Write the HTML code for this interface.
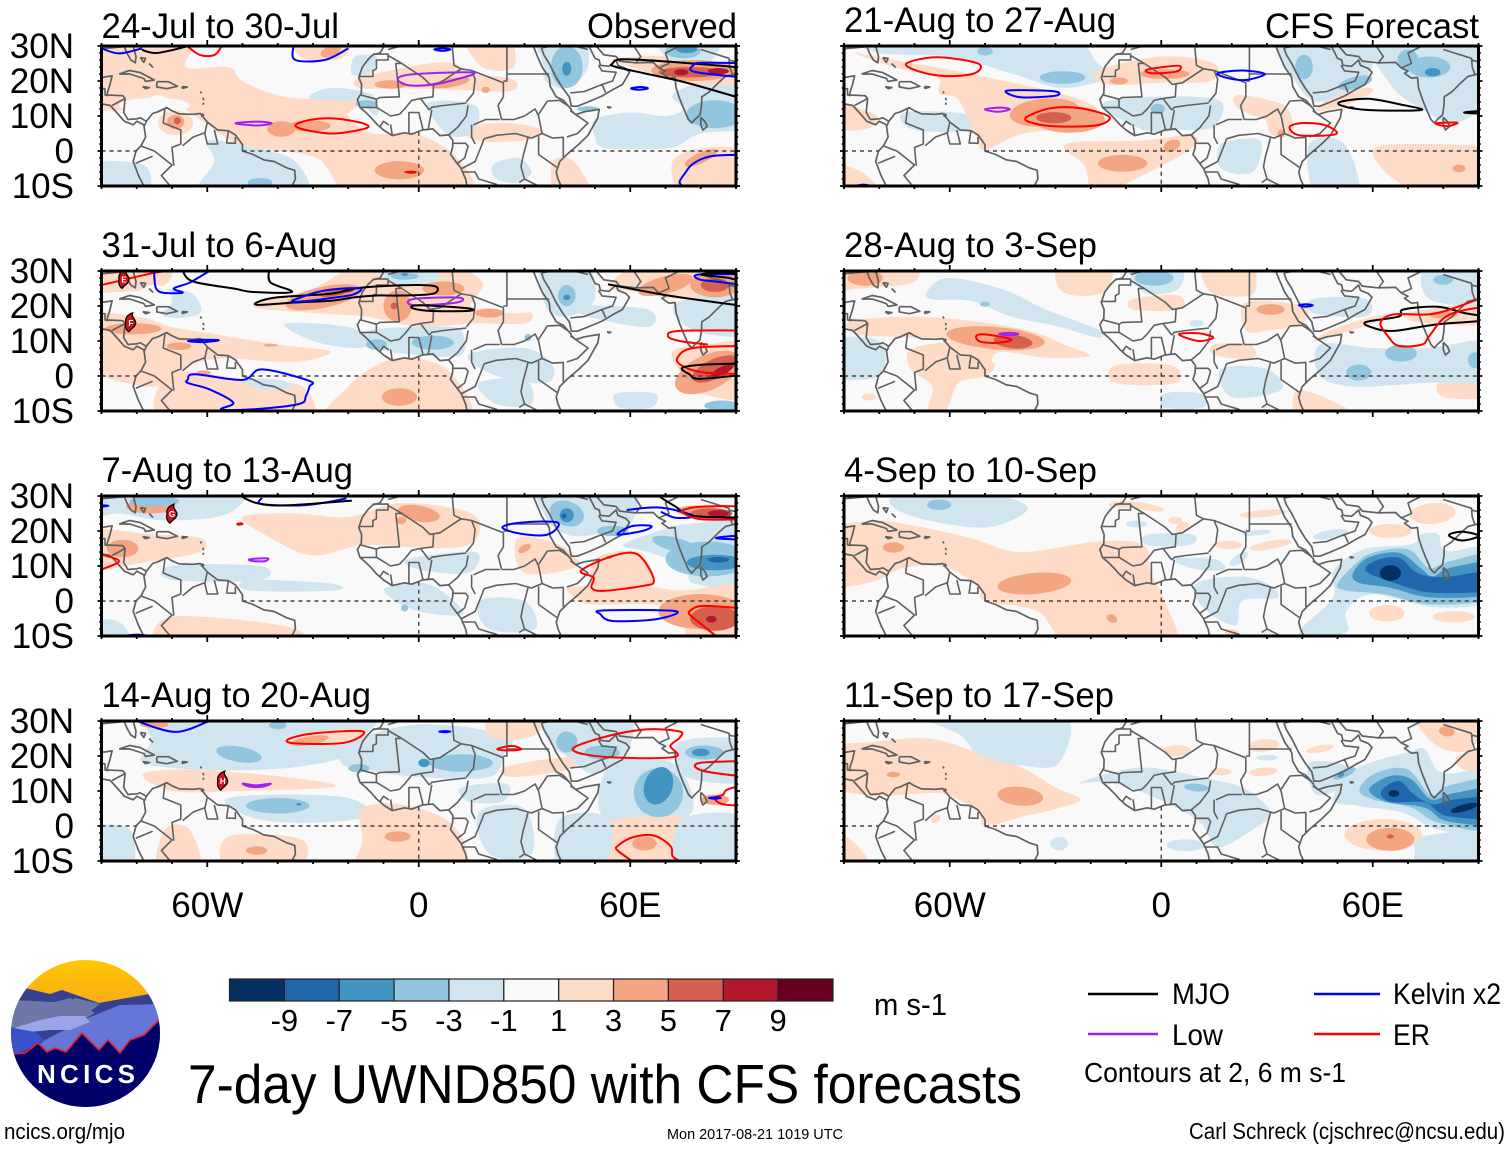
<!DOCTYPE html>
<html lang="en">
<head>
<meta charset="utf-8">
<title>7-day UWND850 with CFS forecasts</title>
<style>
html,body{margin:0;padding:0;background:#fff;}
svg{display:block;font-family:"Liberation Sans",sans-serif;}
</style>
</head>
<body>
<svg id="chart" xmlns="http://www.w3.org/2000/svg" width="1510" height="1149" viewBox="0 0 1510 1149">
  <rect width="1510" height="1149" fill="#fff"/>

  <g>
    <defs>
      <clipPath id="logoClip"><ellipse cx="85.5" cy="1033.5" rx="74.5" ry="73.5"/></clipPath>
      <linearGradient id="sky" x1="0" y1="0" x2="0" y2="1"><stop offset="0" stop-color="#ffc800"/><stop offset="1" stop-color="#f5a41e"/></linearGradient>
    </defs>
    <g clip-path="url(#logoClip)">
      <rect x="10" y="958" width="152" height="60" fill="url(#sky)"/>
      <path d="M5 989 L25 988 L50 994 L62 990 L99 1003 L149 994 L165 995 L165 1110 L5 1110Z" fill="#36408f"/>
      <path d="M5 1000 L35 1001 L55 1002 L70 998 L95 1013 L75 1024 L40 1030 L5 1027Z" fill="#6d78a8"/>
      <path d="M60 1007 L75 998 L100 1004 L84 1016 L65 1015Z" fill="#6d78a8"/>
      <path d="M88 1018 L120 1005 L165 1004 L165 1060 L60 1060 L20 1060 L45 1040Z" fill="#6676d6"/>
      <path d="M14 1028 L40 1020 L60 1016 L85 1016 L90 1022 L70 1030 L50 1030 L30 1032Z" fill="#9aa4e6"/>
      <path d="M8 1027 L35 1032 L45 1040 L20 1053 L8 1055Z" fill="#3a50c8"/>
      <path d="M5 1053 L14 1054 L25 1053 L38 1043 L47 1052 L55 1048 L66 1052 L82 1033 L99 1050 L108 1040 L120 1053 L130 1040 L144 1035 L159 1020 L165 1020 L165 1110 L5 1110Z" fill="#00006a"/>
      <path d="M5 1053 L14 1054 L25 1053 L38 1043 L47 1052 L55 1048 L66 1052 L82 1033 L99 1050 L108 1040 L120 1053 L130 1040 L144 1035 L159 1020" fill="none" stroke="#e8202a" stroke-width="1.6"/>
      <text x="37" y="1083" font-size="26" font-weight="bold" fill="#fff" textLength="98" lengthAdjust="spacing">NCICS</text>
    </g>
  </g>

  <g id="panels"></g>
  <g id="colorbar"></g>

  <text x="874" y="1015" font-size="31" textLength="73" lengthAdjust="spacingAndGlyphs">m s-1</text>
  <text x="188" y="1103" font-size="55" textLength="834" lengthAdjust="spacingAndGlyphs">7-day UWND850 with CFS forecasts</text>

  <g font-size="30">
    <line x1="1088" y1="994" x2="1158" y2="994" stroke="#000" stroke-width="2.4"/>
    <text x="1172" y="1004" textLength="58" lengthAdjust="spacingAndGlyphs">MJO</text>
    <line x1="1314" y1="994" x2="1380" y2="994" stroke="#0000ff" stroke-width="2.4"/>
    <text x="1393" y="1004" textLength="108" lengthAdjust="spacingAndGlyphs">Kelvin x2</text>
    <line x1="1088" y1="1034" x2="1158" y2="1034" stroke="#a020f0" stroke-width="2.4"/>
    <text x="1172" y="1045" textLength="51" lengthAdjust="spacingAndGlyphs">Low</text>
    <line x1="1314" y1="1034" x2="1380" y2="1034" stroke="#ff0000" stroke-width="2.4"/>
    <text x="1393" y="1045" textLength="37" lengthAdjust="spacingAndGlyphs">ER</text>
    <text x="1084" y="1082" font-size="28" textLength="262" lengthAdjust="spacingAndGlyphs">Contours at 2, 6 m s-1</text>
  </g>

  <text x="4" y="1139" font-size="22" textLength="121" lengthAdjust="spacingAndGlyphs">ncics.org/mjo</text>
  <text x="667" y="1139" font-size="15" textLength="176" lengthAdjust="spacingAndGlyphs">Mon 2017-08-21 1019 UTC</text>
  <text x="1189" y="1139" font-size="23" textLength="316" lengthAdjust="spacingAndGlyphs">Carl Schreck (cjschrec@ncsu.edu)</text>
</svg>

<script>
// ---------- colour scale ----------
const levelValues = [-10,-8,-6,-4,-2,0,2,4,6,8,10];
const levelColors = ['#053061','#2166ac','#4393c3','#92c5de','#d1e5f0','#f9f9f9','#fddbc7','#f4a582','#d6604d','#b2182b','#67001f'];
const colorbarLabels = ['-9','-7','-5','-3','-1','1','3','5','7','9'];

// ---------- axes ----------
const lonLabels = ['60W','0','60E'];
const lonLabelValues = [-60,0,60];
const latLabels = ['30N','20N','10N','0','10S'];
const latLabelValues = [30,20,10,0,-10];

// ---------- geography: [lon,lat,...] ----------
const coastLines = [
 [-9.8,30,-11,28,-13,27.5,-14.5,26,-16,24,-17,21,-16.2,19,-16.3,16.5,-17.4,14.7,-16.7,12.5,-15,11,-13.5,9.5,-12,7.8,-10,6,-7.5,4.4,-4,5.2,-2,4.8,1,6,4,6.3,6,4.4,8.5,4.6,9.7,3,9.6,1,9,-1,10.5,-3,12,-5,13.3,-8,13.7,-10],
 [32.5,30,33.5,27.5,35,24,37,21,37.3,18.5,39,15.5,41,14.5,43.2,12,43.3,11.5,44.5,10.4,47,11.2,51.2,11.9,50.8,9.5,48,4.5,45.5,2,42,-1,40,-3,39,-6,39.5,-8,40.4,-10],
 [34.8,29.5,35.5,27.5,37,25,39,21,40.8,18,42.7,15.5,43.3,12.8,45,12.8,48,14,52,15.7,55,17.5,57.8,19,59.8,22.5,58.7,23.6,56.5,24.5,56,26,54,24.2,51.5,24.5,51.2,26,50,26.5,48.5,29.5,48,30],
 [48,30,50.5,29.8,52.5,27.5,56,27,57,25.7,61.5,25.2,66.5,25.3,68,23.8,70,22.8,69,22.2,71,20.8,72.7,21,73,18,74,15,75,12.5,76.5,9,77.5,8,78.3,9,79.8,10.3,80.2,13,80.3,15.5,82.3,16.8,85,19.5,87,21.3,89,21.8,90,22],
 [80,9.6,81.2,8.4,81.8,7,80.6,6,80,7.5,80,9.6],
 [53.4,12.6,54.5,12.5,54,12.3,53.4,12.6],
 [-81,30,-80.2,27,-80.4,25.2,-81.7,26,-82.8,28,-83.5,29.8,-85,29.7,-90,29.2],
 [-90,21,-87,21.5,-87.6,19,-88.2,17,-88.5,16,-84,15.8,-83.3,15,-83.7,11,-82.5,9,-80,9.2,-79,9.5,-77.3,8.5,-75.5,10.7,-74,11.2,-71.5,12.4,-70,11.5,-68,10.6,-64,10.5,-62,10.7,-60,8.3,-57,6,-54,5.8,-52,4.6,-50,1.8,-50,0,-47,-1,-44,-2.5,-41,-3,-37.5,-4.8,-35.2,-5.5,-35,-8,-36,-10],
 [-90,13.5,-87.5,13,-85.7,11,-83.5,8.5,-81,7.5,-80,8.5,-78,7.5,-77.5,4,-78.8,1.5,-80.2,0,-81,-3,-79.5,-7,-78,-10],
 [-85,22,-82,23,-79,22.4,-75,20.3,-77.5,19.9,-78,20.7,-82,22,-85,22],
 [-74.3,19.8,-71,19.8,-68.5,18.5,-71.5,17.8,-74.3,18.3,-74.3,19.8],
 [-78.3,18.4,-76.4,18.1,-77.5,17.8,-78.3,18.4],
 [-67.2,18.4,-65.7,18.3,-67,17.9,-67.2,18.4],
 [-79,26.7,-77.5,26.5,-78,25.3,-79,26.7],
 [-76.5,25,-75.5,24,-76,24.5],
 [-62,17,-61.6,16.5],[-61.2,15.2,-61,14.5],[-61,13.8,-61.2,13.2],
 [-61.5,10.7,-61,10.2,-61.8,10]
];
const borderLines = [
 [-17,21.3,-13,21.3,-13,23,-12,23.5,-12,26,-8.7,26,-8.7,27.7,-13,27.7],
 [-8.7,27.3,-4.8,25,-6.5,25,-5.5,15.5,-11,15.3,-12,14.8,-16.4,16],
 [-8.7,29,-5,30],
 [-4.8,25,1.2,21,3.2,19,4.2,19.2,6,19.5,12,23.5,10,24.5,9.5,30],
 [12,23.5,15,23,24,19.5,24,15.5,22.5,13,23.5,9],
 [25,30,25,22,37,22],[25,22,25,20,24,20],
 [15,23,16,20.5,15.5,16.5,13.5,14],
 [4.2,19.2,4,15.5,0.5,15,3,11.7],
 [3,11.7,3.7,12.5,7,13,13.5,13.7],
 [2.7,6.3,3.7,11.7],[1.2,6.1,0,11,-2.8,11,-2.8,5],
 [-5.5,10.5,-4,12,-2,14.5,0.5,15],
 [-8,7.6,-7.5,4.4],[-8.5,7.5,-10,8.5,-11,7],
 [-12,12.5,-8,10,-5.5,10.5],[-16.7,12.4,-12,12.5,-12,14.8],
 [8.5,4.6,11,6.7,13.5,10,14,13],
 [15,7.5,15,4,16,2],[15.5,7.5,19,9,23,9],
 [18.5,3.5,22,4.5,27.5,5],
 [23.5,9,27,9,30,10,33,12,34,10,35,5,32,3.7,27.5,5],
 [36.5,14.3,34,10.5],[36.5,14.3,40,14.5,42.5,12.8],
 [43,11.5,48,8,45,5,42,4],[35,5,38,3.7,41,3.9,41,-1.7],
 [34,4.2,34,1,34,-1,39.2,-4.7],
 [31,3.8,30,0,29.6,-1.4,29,-4.5,30,-8,28.5,-9],
 [9.8,2.2,13.3,2.2,14,1.3,13,-2,11,-3.5],
 [12.2,-5,16,-3,18,2,18.5,3.5],
 [12.2,-6,16,-6,17,-8,22,-9.5,24,-11],
 [30,-8,33,-9.5,34,-10,40.4,-10.5],
 [43,16.6,47,17,52,19,55,20,56,22.5,52,22.9,51,24.5],
 [52,19,53,16.7],[61.5,25,63,27,61,30],
 [68.2,23.8,71,25,70,28,74,30],
 [80,29,88,26.5,88.2,24,89,21.8],[88,26,92,25],
 [35,29.5,38,30],[44,30,48,29],
 [-72,12,-72.5,8,-67.5,6,-67.5,2,-70,1,-69.5,-4.2],
 [-79,1.5,-75,0,-70,-4,-73,-7,-70.5,-10],
 [-80.3,-3.5,-75.5,-1.5],[-67,1.5,-64,4,-60.7,5.2],
 [-60,8.3,-60.7,5,-60,2,-57,2,-58,6],
 [-54,5.8,-54.5,2.3,-52,2.2,-52,4],
 [-90,17.8,-89,17.8,-89,16,-88,15.8],[-83.3,15,-87,13],[-77.3,8.5,-77.8,7.2]
];
const equatorSegments = [-90,-80,-50,9,43,90];
const meridianSegment = [5.5,-10];

// ---------- panel 1: 24-Jul to 30-Jul ----------
const p1Areas = [
 [2,[-95,33,-65,33,-66,24,-54,24,-50,20,-38,15.5,-18,14,-20,10,-13,5,-1,5,11,-2,14,-13,-18,-13,-29,-2,-48,1,-55,4,-65,11,-74,16,-81,12,-95,14]],
 [2,[-17,21,-8,23,3,25,10,25,15,22,25,21,28,19,25,17,10,17.5,-5,18,-17,18]],
 [2,[13,33,25,33,27,24,18,24]],
 [2,[-35,33,-20,33,-22,26.5,-33,26.5]],
 [2,[55,26,62,27,70,27,78,24,95,24,95,19,80,19,70,21,60,24]],
 [2,[14,7,25,8,35,6,30,3,16,3]],
 [2,[38,-3,44,-3,49,-13,39,-13]],
 [2,[72,-3,82,1,95,-1,95,-13,76,-13]],
 [-2,[33,33,46,33,48,24,42,18,36,20,35,26]],
 [-2,[68,33,85,33,82,25,72,25]],
 [-2,[50,9,60,11,70,10,75,12,72,16,80,19,95,17,95,7,80,5,72,1,60,0.5,52,1,50,4]],
 [-2,[-31,15,-18,14,-12,10,-13,16,-25,18]],
 [-2,[3,14,16,13,16,6,10,4,5,8]],
 [-2,[-60,3,-47,1,-35,-3,-33,-13,-62,-13,-58,-3]],
 [-2,[-95,-4,-78,-4,-78,-13,-95,-13]],
 [-2,[-18,27,-12,27,-14,22,-19,22]],
 [-2,[21,-4,28,-2,32,-6,28,-9,22,-8]]
];
const p1Blobs = [
 [0,-75,13,10,2.2,0],[0,-70,-4,7,4,0],
 [2,-69,8,5,3.5,0],[4,-69,8.3,2.5,2,0],[6,-68.5,8.6,1,1,0],
 [4,-39,6.3,4,2.2,0],[4,-31,7.2,6,1.6,0],[4,-5.5,-5.5,7,2.6,0],
 [4,-25,28.5,3,1.5,-20],[4,-8,19,4.5,1.2,0],[4,9,19.5,5.5,1.3,-10],[4,19,17.5,1.2,0.9,0],
 [4,78,23,12,3,0],[6,77,22.5,9,1.5,0],[8,74.5,22.5,2,0.9,0],[8,85,22.8,3,0.9,0],
 [4,80,-2,5,1.5,-25],
 [-4,42,24,4.5,6,0],[-6,42,23.5,1.3,2,0],[-4,75,28.5,5,2,0],[-6,76,29,3,1,0],
 [-4,84,10.5,8,4,0],[-4,-15,13.5,3,1,0],[-4,-45,-9,3.5,1.3,0],[-4,48,12,3,0.8,0]
];
const p1Contours = [
 ['kelvin',0,[-90,29.3,-85,27.9,-78.5,29.3]],
 ['mjo',0,[-78.5,28.9,-74.4,28,-66,29.8]],
 ['er',0,[-65.5,29.8,-62,27.4,-58,27.4,-56,29.8]],
 ['kelvin',0,[-35.6,29.8,-35,26,-26.7,26,-20,29.3]],
 ['kelvin',1,[4.4,29,6.7,29.3,9,29,6.7,28.6]],
 ['low',1,[-52,7.9,-45.8,8.4,-41.7,7.9,-45.8,7.3]],
 ['er',1,[-35,7.4,-30.8,8.9,-24,9.3,-15.8,7.9,-15,6.5,-24,5,-32,6]],
 ['low',1,[-5.9,20.8,-0.8,22,15.5,22.4,10,20.3,3.3,18.9,-3.5,18.9]],
 ['er',1,[-3.8,-6,-2,-5.9,-0.8,-6,-2,-6.2]],
 ['mjo',0,[95,23.6,71.4,25.5,57.8,26.2,55,25,56,24,68.7,21.2,76.8,19.3,90,15.5,95,14]],
 ['kelvin',1,[78,24.6,80.8,25.2,95,24.6,95,20.9,90,21.2,78,22.7]],
 ['kelvin',1,[60.2,17.9,63,18.3,65,17.9,62.5,17.5]],
 ['kelvin',0,[95,-1.1,83.6,-1.4,78,-3.5,75.5,-6.4,74,-8.8,74.8,-10]]
];

// ---------- panel 2: 31-Jul to 6-Aug ----------
const p2Areas = [
 [2,[-95,33,-72,33,-72,26,-85,24,-95,25]],
 [2,[-95,17,-80,17,-70,14,-58,12,-40,9,-25,7,-35,4,-55,5,-65,3,-70,-1,-78,-3,-95,3]],
 [2,[-72,0,-62,1,-50,-1,-33,-3,-33,-13,-72,-13]],
 [2,[-47,20,-30,25,-18,31,-5,28,5,33,18,27,15,20,25,18,32,18,30,15,15,15,0,14,-15,17,-30,18]],
 [2,[-10,4,0,5,10,0,13,-13,-25,-13,-20,-3]],
 [2,[54,26,65,33,80,33,95,30,95,23,75,22,62,24]],
 [2,[72,7,82,9,95,9,95,-6,80,-5,75,0]],
 [-2,[-75,24,-65,24,-62,18,-72,17]],
 [-2,[-38,15,-20,14,-13,10,-18,8,-30,10]],
 [-2,[-14,13,5,14,12,13,12,6,0,6,-12,8]],
 [-2,[-11,33,3,33,5,27,-9,27]],
 [-2,[35,33,47,33,50,22,42,17,36,20]],
 [-2,[46,20,65,19,65,14,48,17]],
 [-2,[73,21,95,23,95,12,78,13]],
 [-2,[14,6,30,8,38,3,36,-2,22,0]],
 [-2,[17,-2,30,-1,32,-8,22,-8]],
 [-2,[56,-5,67,-5,66,-9,57,-9]],
 [-2,[-50,-1,-40,-1,-36,-3,-44,-4]]
];
const p2Blobs = [
 [0,-75,22,5,4,0],
 [4,-81,13.5,8,1.6,0],[4,-68,8.5,3.5,1.1,0],[4,-61,1,2,0.6,0],[4,-42,8.8,2,0.4,0],
 [4,-27,22.5,11,3,-12],[6,-23,24,5,1,-12],[8,-20,24.5,1.5,0.5,0],
 [4,-6,20,4,4.5,0],[6,-7,20,1,1,0],[4,7,25,6,2,0],[4,20,18,4,1.3,0],
 [4,-5.5,-6,5,2.5,0],
 [4,70,26,8,2.5,-15],[4,84,26,7,3.5,0],[6,84,26,4,2,0],
 [4,82,1,10,5,-25],[6,84,2,7,2.8,-25],[8,86,1.5,3.5,1.1,-25],
 [-4,-4,28.5,4,1,0],[-6,-4,29,1,0.4,0],[-4,4,9.5,6,2,0],[-4,-12,9,3,1.5,0],
 [-4,42,23,2.5,3,0],[-6,42,22.5,1,0.8,0],[-4,86,-8.5,5,1.5,0],[-4,31,11,1,1,0]
];
const p2Contours = [
 ['er',0,[-90,26,-75,29.5,-70,30]],
 ['kelvin',0,[-75,30,-75,28,-74.5,25,-72.5,23.8,-67,23.8,-69.5,25,-65,26.7,-59.4,30]],
 ['mjo',0,[-67,30,-64,27,-52.5,25,-47,24,-36,24,-42,26.7,-42.5,30]],
 ['mjo',1,[-46,21,-40,22.5,-25,23.5,-18,25,-10,25.7,0,26,5,25.5,4,23.5,-5,23,-12,23,-18,22.5,-25,21.5,-35,21,-45,20.3]],
 ['kelvin',1,[-36,21.4,-29.4,23.8,-24,24.8,-16.5,25,-18.5,23.3,-24,22.4,-32,21.4]],
 ['low',1,[-3,21.4,0.5,22.2,11.5,22.4,10.8,21,-1,20.2]],
 ['mjo',1,[-2,19.5,0.5,20.2,14,19.3,14,18.6,3,18.6]],
 ['er',0,[95,13,74,12.9,70.7,11.4,74,10,82,9]],
 ['er',0,[95,8.6,78,8,73.4,5.2,74.8,2.9,81,1,95,0.5]],
 ['mjo',1,[95,3.3,82.3,3.3,74.8,2.4,76.8,0.5,80,-0.8,95,1]],
 ['kelvin',0,[95,29,79.6,29,79.6,27.6,85,26.9,95,25.7]],
 ['mjo',0,[53.7,26.2,71.4,22.9,95,19.6]],
 ['mjo',1,[80,29,88,28,95,26,95,27.5,88,29.5]],
 ['kelvin',1,[-65.5,10,-61,10.3,-56.7,10.2,-61,9.7]],
 ['kelvin',1,[-65.5,-1,-63.5,0.5,-50,-1.1,-44.4,1.9,-31,-1.4,-31,-3,-32,-5.7,-34,-8,-47,-9.5,-56,-9.5,-52.6,-7.6,-59.4,-3.8,-65.5,-2]]
];
const p2Storms = [['E',-83.6,27.6],['F',-81.7,15.2]];

// ---------- panel 3: 7-Aug to 13-Aug ----------
const p3Areas = [
 [-2,[-95,33,-52,33,-54,25,-72,23,-85,25,-95,24]],
 [-2,[35,33,60,33,60,22,50,19,42,19,36,24]],
 [-2,[58,16,68,20,76,22,95,22,95,5,78,5,76,10,65,14]],
 [2,[-95,20,-75,19,-62,18,-62,14,-78,11,-95,9]],
 [2,[-50,24,-35,25,-20,24,-5,28,15,25,16,17,5,15,-15,16,-30,13,-42,18]],
 [2,[-72,-5,-55,-5,-35,-8,-35,-13,-72,-13]],
 [2,[43,4,65,4,75,3,95,4,95,-13,78,-13,72,-2,50,-1,46,0]],
 [2,[28,18,40,16,45,10,30,8]],
 [2,[50,12,62,14,67,6,62,3,50,3]],
 [-2,[-70,10,-45,10,-45,6,-70,6]],
 [-2,[-48,6,-25,5,-24,3,-48,3]],
 [-2,[-9,4,2,5,10,0,12,-4,0,-3,-8,1]],
 [-2,[17,0,30,0,33,-8,20,-8]],
 [-2,[-3,12,16,14,14,8,0,9]],
 [-2,[-95,-6,-85,-6,-82,-13,-95,-13]]
];
const p3Blobs = [
 [4,-76,27,7,2,0],[-4,-75,28.5,7,1.5,0],
 [4,-84,15,4.5,2.5,0],
 [4,0,25,6,2.3,10],[4,-5,23,1.5,1,0],[4,30,15,2,1,-30],
 [-4,42,25,5,3.5,20],[-6,42,24.5,2,2,0],[-8,41.2,24.3,0.7,0.7,0],
 [-4,55,20,4.5,1.5,0],[-4,82,12,12,5,0],[-6,84,11,8,2.2,0],[-8,85,11.8,3,0.8,0],[-4,73,16,7,2,15],
 [4,80,-3,12,5,0],[6,84,-5,7,3.5,0],[8,83,-5.2,1.5,1,0],
 [4,79,25.8,6,1.5,0],[6,83,25,6,1.5,0],[8,85,25,3,1,0],
 [-4,-4,-2,1,1,0]
];
const p3Contours = [
 ['kelvin',0,[-44.5,29.5,-44.5,27.7,-32,27.4,-20.5,29.3]],
 ['mjo',0,[-50.5,30,-46,28,-38,27.3,-19,28.7]],
 ['er',1,[-51.5,22,-50.5,22.2,-50,22,-51,21.8]],
 ['low',1,[-48,11.9,-43,12.2,-43.6,11.4,-47,11.4]],
 ['kelvin',1,[23.7,21,29,22.4,39.4,22.4,36.6,19,29,19.2]],
 ['kelvin',1,[56.4,19,60.5,21.4,66,21.4,63.4,20]],
 ['kelvin',0,[59,26,68.7,26.7,78,24.3,72.8,23.8,68.7,25.5]],
 ['mjo',0,[68,30,72.8,27,78,24.3,95,23.8]],
 ['er',1,[75,26,81,27,95,26.7,95,23.8,81,23.3,75.6,24.8]],
 ['kelvin',0,[95,17.5,90,17.6,84.3,18,90,18.6,95,18.3]],
 ['kelvin',1,[-90,27.3,-88,27.2,-90,27]],
 ['er',1,[46,8.6,53.7,12.4,60.5,13.8,64,11.4,66.7,5.7,63.4,4.3,52.3,2.9,49,3.8,49.6,6.7]],
 ['kelvin',1,[51.6,-3.8,52.3,-2.7,72.8,-2.9,67.3,-5.2,55,-5.7]],
 ['er',0,[84.3,-10,80,-6.5,77,-4,77,-2.8,81,-1.4,95,-2.4]],
 ['er',0,[-90,13.3,-85,11.4,-90,9]],
 ['kelvin',0,[-84,-10,-80,-9.6,-76,-10]]
];
const p3Storms = [['G',-70,24.8]];

// ---------- panel 4: 14-Aug to 20-Aug ----------
const p4Areas = [
 [-2,[-72,33,-15,33,-15,26,-20,20,-38,16.5,-60,16,-78,18,-76,24]],
 [2,[-37,25,-30,27,-15,27.5,-20,23.5,-35,23]],
 [-2,[-19,24,0,29,25,26,24,20,20,14,0,14,-15,16,-22,18]],
 [-2,[-55,7.5,-40,9,-20,8,-14,3,-28,1,-46,2]],
 [2,[-78,15,-60,16,-30,13,-25,11,-50,10,-70,10]],
 [2,[20,33,35,33,33,26,21,25]],
 [2,[25,17,45,20,42,16,26,14]],
 [-2,[55,18,72,18,78,6,72,1,56,1,51,6]],
 [-2,[36,33,58,33,60,23,50,15,42,20,37,24]],
 [-2,[74,24,95,24,95,13,76,14]],
 [2,[-16,5,-4,6,10,0,12,-13,-16,-13,-16,-4]],
 [2,[52,0,70,3,76,0,70,-13,52,-13]],
 [-2,[40,2,54,2,52,-13,40,-13]],
 [-2,[75,2,95,2,95,-13,74,-13]],
 [2,[-54,-3,-33,-4,-35,-13,-54,-13]],
 [2,[-72,-1,-65,-1,-62,-13,-74,-13]],
 [-2,[17,4,30,5,32,-8,20,-8]],
 [-2,[-95,-1,-82,-1,-82,-13,-95,-13]],
 [-2,[12,11,25,12,24,7,14,7]]
];
const p4Blobs = [
 [4,-31,24.4,5.5,1.2,-10],[-4,-51,20.5,6.5,2.2,10],[-4,-40,28.8,2.5,1.2,0],
 [-4,-40,5.8,9,2.2,0],[-6,-34,6.2,0.7,0.4,0],
 [-4,12,18,9,2.5,0],[-6,1.5,18,1.6,1.2,0],[-4,-17,16.5,3,1.2,0],
 [-4,68,9.5,7,7,15],[-6,68,11.5,4,5.5,20],
 [-4,42,24,3,3,0],[-4,52,21,5,2,0],
 [-4,81,21,5.5,2,0],[-6,80,21,2.5,1.1,0],
 [4,-6,-3,3.7,1.5,0],[4,64,-5,3.5,2,0],[4,-46,-7,3,1.2,0],[4,-75,29,4,1,0],
 [4,84,7.5,4,1.5,0]
];
const p4Contours = [
 ['kelvin',0,[-80,30,-69,26.9,-59.4,30]],
 ['er',1,[-37,24.8,-29.5,26.5,-15.8,27,-21,23.8,-35,23.6]],
 ['kelvin',1,[5.8,27,7.5,27.1,9,27,7.5,26.8]],
 ['er',1,[22.3,22,26.4,22.9,29,21.9,25,21.6]],
 ['er',1,[44,22.4,53.7,25.7,64.5,27.6,74,27,74,25.2,71.4,22.9,72.8,19.8,57.8,19.5,47,20.5]],
 ['er',0,[95,18.6,79.6,18,80.9,15.7,95,13.8]],
 ['er',0,[95,12.4,87.7,10.5,86.4,9,84,8,86.4,6.2,95,5.7]],
 ['kelvin',1,[82.3,8,84,8.2,85.7,8,84,7.8]],
 ['er',0,[60.5,-10,56.4,-7,56.4,-5.7,60.5,-3.3,66.6,-2.7,71.4,-5.7,72,-8.6,74,-10]],
 ['low',1,[-49.9,12.1,-46,11.6,-42,12.1,-44.4,11.2,-48,11.3]]
];
const p4Storms = [['H',-55.6,12.8]];

// ---------- panel 5: 21-Aug to 27-Aug ----------
const p5Areas = [
 [-2,[-85,33,-30,33,-18,25,-15,21,-28,18,-42,22,-60,27,-80,28]],
 [-2,[-73,11,-55,10.5,-52,6,-70,6]],
 [-2,[-16,14,15,15,15,7,5,6,-5,6]],
 [-2,[33,33,58,33,58,20,45,14,38,20]],
 [-2,[60,33,90,33,95,18,84,8,74,12,65,19]],
 [-2,[17,2,28,3,26,-6,17,-5]],
 [-2,[42,2,52,2,56,-13,44,-13]],
 [2,[-87,28,-78.5,26.5,-52.5,21.7,-25.3,15.5,-17.3,10.8,-20.4,7,-39,5,-50,0.3,-52.5,4,-57.5,14.6,-63,16.5,-63.6,21,-76,24]],
 [2,[-27,2,-5.5,3,9,4.6,8,0.3,-8,-8.3,-19,-13,-21.6,-4.5]],
 [2,[-18,23,0,27,15,25,14,20,0,19.5,-15,19]],
 [2,[22,16,35,13,34,8,22,12]],
 [2,[44,11.5,52,13,60,17,57,18,48,15]],
 [2,[30,13,36,12,37,5,31,5]],
 [2,[60,0,72,2,95,0,95,-10,70,-10]],
 [2,[-95,14,-85,12,-80,9,-85,6,-95,7]],
 [2,[-95,-4,-85,-6,-80,-13,-95,-13]]
];
const p5Blobs = [
 [-4,-28,21,6.5,1.8,0],[-4,-50,28.5,2.2,1.2,0],
 [-4,8,10,7,3,0],[-2,6,10,10,4,0],[-4,-1,12,2,1.5,0],
 [-4,40.5,24,2.5,3.5,0],[-4,55,19.5,5,1.7,-15],
 [-4,76,24,6,3,0],[-6,77,22.5,2.2,1.2,0],[-4,70,26,3,3,0],
 [4,-33,11,10,4,-5],[4,-26,9,10,3.8,0],[6,-30.5,9.5,5,1.6,0],
 [4,-11,-3.5,7,2.4,0],[4,3,1.5,2.5,1.6,-25],
 [4,-12,20,2.5,1,0],[4,1,22,7,1.4,0],
 [4,84.5,-5,1.8,1.1,0],[4,34,5,1,1.2,0]
];
const p5Contours = [
 ['er',1,[-72.3,25,-63.6,26.8,-52,25,-53,22.2,-61,21.4,-68.6,22.7]],
 ['kelvin',1,[-44,17.2,-39,17.4,-30,17,-30,15.8,-39,15.3,-42.6,16]],
 ['low',1,[-50,11.9,-45.7,12.4,-43,11.9,-46.3,11.2]],
 ['er',1,[-38.3,9.6,-31.5,12.2,-22.9,12.2,-14.8,9.8,-18,7.4,-29,7,-36.5,8]],
 ['er',1,[-4.3,23.1,0.6,24,5.3,24.3,4.3,22.7,-2.5,22.2]],
 ['kelvin',1,[16,22.2,22.9,23,29.4,22,24,20.3,19,20.8]],
 ['mjo',1,[51,14.1,58.7,14.9,67.4,13.4,73.8,11.7,58.7,11.7,51.3,12.9]],
 ['mjo',0,[95,11.7,85.9,11,95,10.5]],
 ['er',1,[36.5,7,40.2,8,46.4,7.4,49.7,4.9,41.4,4.3,37.7,5]],
 ['er',1,[77.9,7.9,84,8.1,81,7.1]],
 ['kelvin',0,[-87,-10,-84.5,-9.6,-82,-10]]
];

// ---------- panel 6: 28-Aug to 3-Sep ----------
const p6Areas = [
 [2,[-95,33,-72,33,-70,27,-85,25,-95,25]],
 [2,[-87,16,-63.6,16.7,-39,13.3,-26.6,8.6,-20.4,5.7,-32.8,5.2,-46.4,6.7,-50,0,-60,4,-60,10,-72,11,-87,12]],
 [2,[-71,7.6,-57.5,9.5,-47.6,3.8,-50,0,-57.5,-2,-61,-9.5,-66,-9.5,-65,-2.9,-71,1.9]],
 [2,[-29,33,-15,33,-16,24,-28,24]],
 [2,[-8,22,5,23,5,19,-8,19]],
 [2,[12,33,25,33,27,27,25,23,14,24]],
 [2,[24,21,40,20,40,15,30,13,24,13]],
 [2,[44,10,60,15,64,17,60,17,48,13]],
 [2,[70,18,95,21,95,15,75,15]],
 [2,[-13,3,3,3,4,-2,-13,-2]],
 [2,[39,-4,54,-10,52,-13,39,-13]],
 [2,[80,-1,95,-1,95,-6,80,-6]],
 [2,[15,9,25,9,26,5,15,6]],
 [-2,[-66,24.8,-60,28,-45,24.8,-32.8,19,-18,13.3,-18,11,-30,14.3,-42.6,17,-53.8,21.4,-65.5,22]],
 [-2,[-9,33,5,33,5,25,-5,24]],
 [-2,[-95,10,-80,10,-80,0,-95,0]],
 [-2,[45,9,60,8,75,8,95,10,95,-1,75,-2,55,-3,45,0]],
 [-2,[76,33,95,33,95,21,76,22]],
 [-2,[43,22,58,22,58,17,43,18]],
 [-2,[17,2,30,2,34,-4,20,-6]],
 [-2,[1,-5,11,-5,12,-9,1,-9]]
];
const p6Blobs = [
 [4,-84,28,5,2.2,0],[4,31,19,4,1.5,0],[4,80,17.5,4,1.1,0],
 [4,-47,10.8,14,3.2,5],[6,-42,9.8,5.5,1.9,5],
 [-4,-50,20.5,1.4,0.7,0],[-4,-2,28,5.5,2.2,0],[-4,80,27.5,2.8,1.4,0],
 [-4,68,6.5,4.5,2.4,0],[-4,56,1,3.5,2.3,0],[-4,89,4.5,2,2.3,0],
 [2,-35,33,9,2,0],[2,-83,-6,2,1,0],[-2,10,15,2,1,0]
];
const p6Contours = [
 ['er',1,[-52.5,11.4,-50,11.9,-42.6,10.5,-46.3,9.5,-51.3,9.8]],
 ['low',1,[-46,12,-43,12.3,-40.5,12,-43,11.7]],
 ['er',1,[5,11.9,10.5,12.2,14.8,11,10.5,10]],
 ['kelvin',1,[39,20.2,41,20.5,43,20.2,41,19.8]],
 ['mjo',1,[58,15.4,67.4,17,68.7,19,78.5,19.8,85.9,18,95,16.2,78.5,14.8,66,12.9,60,13.8]],
 ['er',0,[95,19,90,19.5,81,17.1,76,11.4,74,9,67.4,8.6,64.3,11.4,62.2,15.2,66,17.6,78.5,18,95,24]]
];

// ---------- panel 7: 4-Sep to 10-Sep ----------
const p7Areas = [
 [2,[-95,21,-90,22,-80,23,-70,21.5,-54,18,-40,14,-18,17,-5,16,-3,8,1,0,3,-13,-25,-13,-35,-3,-50,0,-52,4,-61,9.5,-73,9.5,-82,5.5,-95,5]],
 [-2,[-77,29,-65,33,-45,30,-38,26,-50,21,-70,24]],
 [-2,[40,-7.6,48.8,1,48.8,8.6,57.5,14.8,71,16.2,73.7,19,78.5,19,81,14.3,95,15.2,95,1,78.5,-1.9,60,1.9,52.5,-2.9,52.5,-9,41,-10]],
 [-4,[50,4.8,55,10.5,60,13.8,70,14.8,76,9.5,82,11.4,95,13.3,95,1.4,77,-1,63.6,1.9,52.5,3]],
 [-6,[54.4,8,58.7,12.4,67.4,13.8,73.5,9.5,77,7,82,9.5,95,11,95,2.4,77,1,65,3.8,56,5.2]],
 [-8,[58,8.6,61,11.6,67.4,12.4,71.7,8.6,76,7,82,7,95,8.6,95,3.3,77,2.4,66,5.2]],
 [-2,[10,5,22,7,30,5,33,1,23,0,21,-7,12,-2]],
 [-2,[3,12,15,12,18,9,10,9]],
 [-2,[-4,19,9,19,8,16,-4,16]]
];
const p7Blobs = [
 [-4,-63,27.5,3.4,1.5,0],[-2,22,12,3,1.3,-35],[-2,27,19.5,4,0.8,-5],[-2,48,19,5,1.3,-10],
 [-2,-7,22,3,1,0],
 [4,-36,5,10.5,3,-5],[4,-76,15.3,3,1.5,0],[4,-14,-5,1.6,1.1,25],
 [-10,65,8,3,2.2,0],
 [2,65,20,6,2,0],[2,77,25,6.5,3,-5],[2,64,-3.5,5,2.4,0],[2,83,-4.5,6,1.6,0],
 [2,29,25,7,1,-5],[2,31,16,6,1.2,-10],[2,19,16,4,1.2,0],[2,-11,27.5,4,1,0],[2,-5,27,6,1,10],
 [2,4,23,2,1,0],[2,6,21,2,1.5,-30],[2,20,-9,2,1,0],[-2,-50,-10,6,0.5,0]
];
const p7Contours = [
 ['mjo',1,[81.6,18.8,85.3,19.8,90,18.6,85.3,17.3]]
];

// ---------- panel 8: 11-Sep to 17-Sep ----------
const p8Areas = [
 [2,[-95,22,-82,24,-66,25,-52,21,-41,17.5,-30,11,-23,7.5,-32,4.3,-39,2.8,-50,0,-52,4,-61,9,-71,9.1,-82,8.6,-95,12]],
 [-2,[-69,33,-29,33,-29,18,-41,17.5,-52,20.5,-57,26]],
 [2,[-95,-3,-88,-4,-82,-13,-95,-13]],
 [-2,[-23,12.4,-5.5,16.7,14,13.3,24,10.5,31,3.8,26,-1,16,-6,11,1,-0.6,7.6,-14,12.4]],
 [-2,[42,18,53,17,53,12,44,9]],
 [-2,[48.8,7.6,55,16.2,69.8,21,74.8,21.9,79.7,15.2,95,15.2,95,-1.9,78.5,-1,68.6,3.8,56,5.7]],
 [-4,[56.2,10.5,61,15.2,69.8,16.2,76.6,8.6,81,11.4,95,12.9,95,-1,78.5,1,71,5.2,60,7.6]],
 [-6,[59,10.5,65,14.3,71,13.3,76.6,7.6,83.4,9.5,95,10.5,95,1,81,1.4,74.8,5.2,63.7,7]],
 [-8,[62.4,10,67.4,12.9,71.7,9,77,6.2,83.4,7.6,95,8.1,95,2.4,81,2.9,74.8,6.7,64.9,7]],
 [-2,[74,-3,95,-2,95,-13,74,-13,72,-7]],
 [2,[72,33,90,33,88,22,78,23]],
 [2,[84,20,95,22,95,17,86,16]]
];
const p8Blobs = [
 [4,-76,14.7,1.9,0.8,0],[4,-40,8.5,6.5,2.7,5],
 [-4,10,11,3.5,1.1,5],[-2,7,-5.5,5.5,1.7,0],[-2,-29,-5,2.5,1.9,0],
 [-4,52,15,3.5,1.1,-25],[-6,51,14.5,1,0.5,-25],
 [-10,66,9.3,1.5,1,0],[-10,86,5.2,4,1,-15],
 [2,63,-2.5,11,4.5,0],[4,65,-3.8,6.8,3.3,0],[6,65,-3,1,0.6,0],
 [4,81,27,2.2,1.4,10],
 [2,4.5,21.5,4,1.6,0],[2,17,15.5,3,1,0],[2,29,15.5,4,1.2,-5],[2,29,23,4.5,1.8,-5],
 [2,45,22,4,1,-10],[-2,30,19.5,3,0.8,0],[2,-64,2,1.5,1,-35]
];
const p8Contours = [];

// ---------- panels ----------
const panelTitles = ['24-Jul to 30-Jul','31-Jul to 6-Aug','7-Aug to 13-Aug','14-Aug to 20-Aug','21-Aug to 27-Aug','28-Aug to 3-Sep','4-Sep to 10-Sep','11-Sep to 17-Sep'];
const panelAreas = [p1Areas,p2Areas,p3Areas,p4Areas,p5Areas,p6Areas,p7Areas,p8Areas];
const panelBlobs = [p1Blobs,p2Blobs,p3Blobs,p4Blobs,p5Blobs,p6Blobs,p7Blobs,p8Blobs];
const panelContours = [p1Contours,p2Contours,p3Contours,p4Contours,p5Contours,p6Contours,p7Contours,p8Contours];
const panelStorms = [[],p2Storms,p3Storms,p4Storms,[],[],[],[]];
const titleRights = [339,337,353,371,1116,1097,1097,1114];
const titleBaselines = [38,257,482,707,32,257,482,707];
const contourColors = {mjo:'#000000',kelvin:'#0000ff',low:'#a020f0',er:'#ff0000'};

const NS = 'http://www.w3.org/2000/svg';
function mk(tag, attrs, parent){
  const e = document.createElementNS(NS, tag);
  for (const k in attrs) e.setAttribute(k, attrs[k]);
  parent.appendChild(e);
  return e;
}
const PW = 634.5, PH = 140;
function colorFor(v){ return levelColors[levelValues.indexOf(v)]; }
function pairs(a, X, Y){ const r=[]; for(let i=0;i<a.length;i+=2) r.push([X(a[i]),Y(a[i+1])]); return r; }
function smooth(p, closed){
  const n=p.length; if(n<2) return '';
  let d='M'+p[0][0].toFixed(1)+' '+p[0][1].toFixed(1);
  const at=i=>closed?p[(i+n)%n]:p[Math.max(0,Math.min(n-1,i))];
  const m=closed?n:n-1;
  for(let i=0;i<m;i++){
    const a=at(i-1),b=at(i),c=at(i+1),e=at(i+2);
    d+='C'+(b[0]+(c[0]-a[0])/6).toFixed(1)+' '+(b[1]+(c[1]-a[1])/6).toFixed(1)+' '+(c[0]-(e[0]-b[0])/6).toFixed(1)+' '+(c[1]-(e[1]-b[1])/6).toFixed(1)+' '+c[0].toFixed(1)+' '+c[1].toFixed(1);
  }
  return d+(closed?'Z':'');
}
function straight(p){ return 'M'+p.map(q=>q[0].toFixed(1)+' '+q[1].toFixed(1)).join('L'); }

const root = document.getElementById('panels');
const defs = mk('defs', {}, root);

panelTitles.forEach(function(title, idx){
  const col = idx < 4 ? 0 : 1, row = idx % 4;
  const x0 = 101.5 + col*742.5, y0 = 46 + row*225;
  const X = lon => x0 + (lon+90)*PW/180;
  const Y = lat => y0 + (30-lat)*PH/40;

  const g = mk('g', {}, root);
  
  

  const cp = mk('clipPath', {id:'clip'+idx}, defs);
  mk('rect', {x:x0,y:y0,width:PW,height:PH}, cp);

  const map = mk('g', {'clip-path':'url(#clip'+idx+')'}, g);
  
  

  const bg = mk('rect', {x:x0,y:y0,width:PW,height:PH,fill:'#f9f9f9'}, map);
  
  

  panelAreas[idx].forEach(function(a){
    const path = mk('path', {d:smooth(pairs(a[1],X,Y),true),fill:colorFor(a[0])}, map);
    
    
  });
  panelBlobs[idx].forEach(function(b){
    const cx=X(b[1]), cy=Y(b[2]);
    const el = mk('ellipse', {cx:cx,cy:cy,rx:b[3]*PW/180,ry:b[4]*PH/40,fill:colorFor(b[0]),transform:'rotate('+b[5]+' '+cx+' '+cy+')'}, map);
    
    
  });

  const coast = mk('path', {d:coastLines.map(l=>straight(pairs(l,X,Y))).join(''),fill:'none',stroke:'#606060','stroke-width':1.7,'stroke-linejoin':'round'}, map);
  
  
  const border = mk('path', {d:borderLines.map(l=>straight(pairs(l,X,Y))).join(''),fill:'none',stroke:'#606060','stroke-width':1.6,'stroke-linejoin':'round'}, map);
  
  

  for(let i=0;i<equatorSegments.length;i+=2){
    const eq = mk('line', {x1:X(equatorSegments[i]),x2:X(equatorSegments[i+1]),y1:Y(0),y2:Y(0),stroke:'#444','stroke-width':1.4,'stroke-dasharray':'4 4'}, map);
    
    
  }
  const mer = mk('line', {x1:X(0),x2:X(0),y1:Y(meridianSegment[0]),y2:Y(meridianSegment[1]),stroke:'#444','stroke-width':1.4,'stroke-dasharray':'4 4'}, map);
  
  

  panelContours[idx].forEach(function(c){
    const path = mk('path', {d:smooth(pairs(c[2],X,Y),!!c[1]),fill:'none',stroke:contourColors[c[0]],'stroke-width':2,'stroke-linejoin':'round'}, map);
    
    
  });

  panelStorms[idx].forEach(function(s){
    const st = mk('g', {transform:'translate('+X(s[1])+' '+Y(s[2])+')'}, map);
    
    
    mk('path', {d:'M2,-10C-4,-8 -6,-4 -5,0C-6,3 -5,7 -2,9C0,6 5,4 5,0C5,-4 0,-6 2,-10Z',fill:'#c8141c',stroke:'#000','stroke-width':1.2}, st);
    const t = mk('text', {x:0,y:3,'font-size':8,'font-weight':'bold',fill:'#fff','text-anchor':'middle'}, st);
    t.textContent = s[0];
  });

  // frame
  const frame = mk('rect', {x:x0,y:y0,width:PW,height:PH,fill:'none',stroke:'#000','stroke-width':3}, g);
  
  

  // ticks
  let td='';
  for(let lon=-90;lon<=90;lon+=10){
    const len = lonLabelValues.includes(lon) ? 6 : 3;
    td+='M'+X(lon)+' '+y0+'v'+(-len)+'M'+X(lon)+' '+(y0+PH)+'v'+len;
  }
  for(let lat=-10;lat<=30;lat+=2){
    const len = latLabelValues.includes(lat) ? 4 : 2.2;
    td+='M'+x0+' '+Y(lat)+'h'+(-len)+'M'+(x0+PW)+' '+Y(lat)+'h'+len;
  }
  const ticks = mk('path', {d:td,stroke:'#000','stroke-width':1.8,fill:'none'}, g);
  
  

  // title
  const tt = mk('text', {x:x0,y:titleBaselines[idx],'font-size':35,textLength:titleRights[idx]-x0,lengthAdjust:'spacingAndGlyphs'}, g);
  
  
  tt.textContent = title;

  // y labels (left column only)
  if(col===0){
    latLabels.forEach(function(lb,i){
      const t = mk('text', {x:74,y:Y(latLabelValues[i])+12,'font-size':35,'text-anchor':'end'}, g);
      
      
      t.textContent = lb;
    });
  }
  // x labels (bottom row only)
  if(row===3){
    lonLabels.forEach(function(lb,i){
      const t = mk('text', {x:X(lonLabelValues[i]),y:917,'font-size':35,'text-anchor':'middle'}, g);
      
      
      t.textContent = lb;
    });
  }
});

// header labels on the top row
const rightHeaderA = mk('text', {x:587,y:38,'font-size':35,textLength:150,lengthAdjust:'spacingAndGlyphs'}, root);


rightHeaderA.textContent = 'Observed';
const rightHeaderB = mk('text', {x:1265,y:38,'font-size':35,textLength:214,lengthAdjust:'spacingAndGlyphs'}, root);


rightHeaderB.textContent = 'CFS Forecast';

// colorbar
const cb = document.getElementById('colorbar');
const cbX0 = 229.5, cbW = 603.5, cbY = 979, cbH = 22;
const cbStep = cbW / levelColors.length;
levelColors.forEach(function(c,i){
  const r = mk('rect', {x:cbX0+i*cbStep,y:cbY,width:cbStep,height:cbH,fill:c,stroke:'#222','stroke-width':1.2}, cb);
  
  
});
colorbarLabels.forEach(function(lb,i){
  const t = mk('text', {x:cbX0+(i+1)*cbStep,y:1031,'font-size':31,'text-anchor':'middle'}, cb);
  
  
  t.textContent = lb;
});
</script>
</body>
</html>
